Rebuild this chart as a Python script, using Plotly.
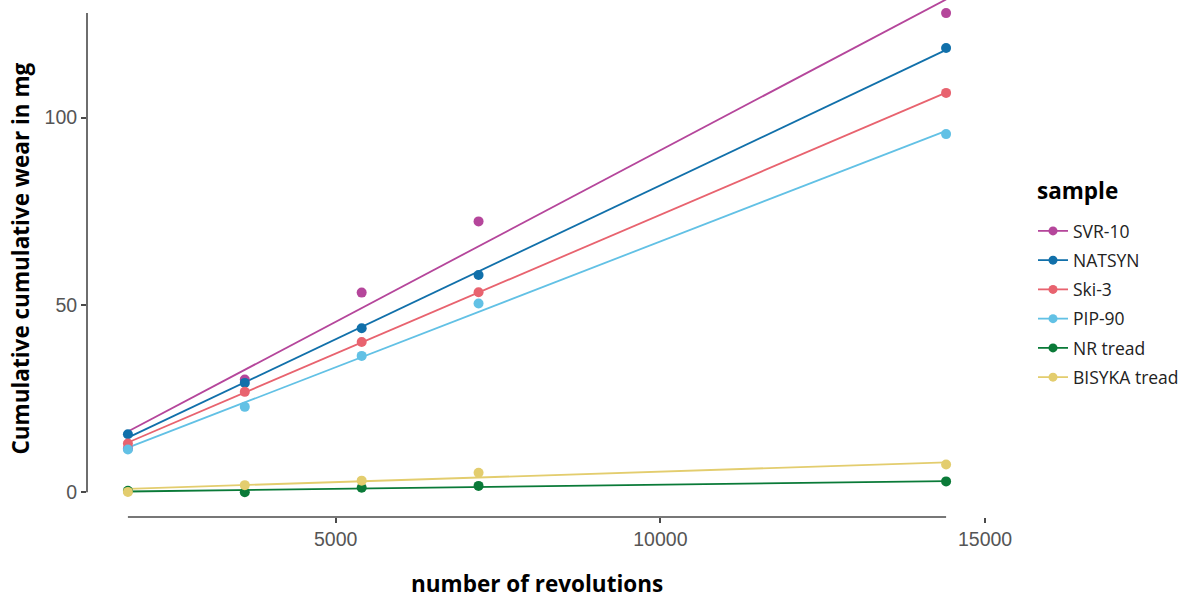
import numpy as np
import plotly.graph_objects as go

revolutions = [1800, 3600, 5400, 7200, 14400]
samples = ["SVR-10", "NATSYN", "Ski-3", "PIP-90", "NR tread", "BISYKA tread"]
wear_svr10 = [11.7, 30.1, 53.3, 72.3, 127.9]
wear_natsyn = [15.5, 29.2, 43.8, 58.0, 118.6]
wear_ski3 = [13.0, 26.8, 40.1, 53.4, 106.6]
wear_pip90 = [11.4, 22.8, 36.4, 50.4, 95.6]
wear_nr = [0.4, 0.0, 1.2, 1.7, 2.9]
wear_bisyka = [0.1, 1.9, 3.1, 5.2, 7.4]
colors = ["#B5469B", "#1170AA", "#E8636F", "#62C1E5", "#0A7A38", "#E3CD6E"]
x_ticks = [5000, 10000, 15000]
x_tick_labels = ["5000", "10000", "15000"]
y_ticks = [0, 50, 100]
y_tick_labels = ["0", "50", "100"]

series = [wear_svr10, wear_natsyn, wear_ski3, wear_pip90, wear_nr, wear_bisyka]

W, H = 1185, 599
L, R, T, B = 87, 198, 0, 82
plot_w = W - L - R
plot_h = H - T - B

fig = go.Figure()
xs = np.array(revolutions, dtype=float)
xline = np.array([xs.min(), xs.max()])
for name, ys, col in zip(samples, series, colors):
    slope, icpt = np.polyfit(xs, np.array(ys), 1)
    fig.add_trace(go.Scatter(x=xline, y=slope * xline + icpt, mode="lines",
                             line=dict(color=col, width=1.8), showlegend=False,
                             legendgroup=name, hoverinfo="skip"))
for name, ys, col in zip(samples, series, colors):
    fig.add_trace(go.Scatter(x=revolutions, y=ys, mode="markers",
                             marker=dict(color=col, size=10), showlegend=False,
                             legendgroup=name, name=name))
for name, col in zip(samples, colors):
    fig.add_trace(go.Scatter(x=[None], y=[None], mode="lines+markers", name=name,
                             legendgroup=name,
                             line=dict(color=col, width=1.8),
                             marker=dict(color=col, size=9)))

all_y = np.concatenate([np.array(s) for s in series])
axis_col = "#4a4a4a"
fig.add_shape(type="line", xref="x", yref="paper", x0=xs.min(), x1=xs.max(), y0=0, y1=0,
              line=dict(color=axis_col, width=1.6))
fig.add_shape(type="line", xref="paper", yref="y", x0=0, x1=0, y0=all_y.min(), y1=all_y.max(),
              line=dict(color=axis_col, width=1.6))

tick_font = dict(family="Liberation Sans, Arial, sans-serif", size=19.5, color="#555555")
title_font = dict(family="Open Sans", size=22.5, color="black")
fig.update_layout(
    width=W, height=H,
    margin=dict(l=L, r=R, t=T, b=B, pad=0),
    plot_bgcolor="white", paper_bgcolor="white",
    xaxis=dict(range=[1170, 15030], tickvals=x_ticks, ticktext=x_tick_labels,
               ticks="outside", ticklen=5, automargin=False,
               tickwidth=1.6, tickcolor=axis_col, showline=False, showgrid=False,
               zeroline=False, tickfont=tick_font),
    yaxis=dict(range=[-6.6, 131.4], tickvals=y_ticks, ticktext=y_tick_labels,
               ticks="outside", ticklen=5, automargin=False,
               tickwidth=1.6, tickcolor=axis_col, showline=False, showgrid=False,
               zeroline=False, tickfont=tick_font),
    legend=dict(x=(1033 - L) / plot_w, xanchor="left", y=1 - 213 / plot_h, yanchor="top",
                font=dict(family="Open Sans", size=17.5, color="#222222"),
                tracegroupgap=3.5, bgcolor="rgba(0,0,0,0)"),
    annotations=[
        dict(text="<b>sample</b>", xref="paper", yref="paper",
             x=(1035 - L) / plot_w, y=1 - 191 / plot_h, xanchor="left", yanchor="middle",
             showarrow=False, font=title_font),
        dict(text="<b>number of revolutions</b>", xref="paper", yref="paper",
             x=0.5, y=(plot_h - (583 - T)) / plot_h, xanchor="center", yanchor="middle",
             showarrow=False, font=title_font),
        dict(text="<b>Cumulative cumulative wear in mg</b>", xref="paper", yref="paper",
             x=-(L - 20) / plot_w, y=0.5, xanchor="center", yanchor="middle", textangle=-90,
             showarrow=False, font=title_font),
    ],
)

fig.write_html("out.html", config={"displayModeBar": False},
               post_script="document.body.style.margin='0';document.body.style.overflow='hidden';")
